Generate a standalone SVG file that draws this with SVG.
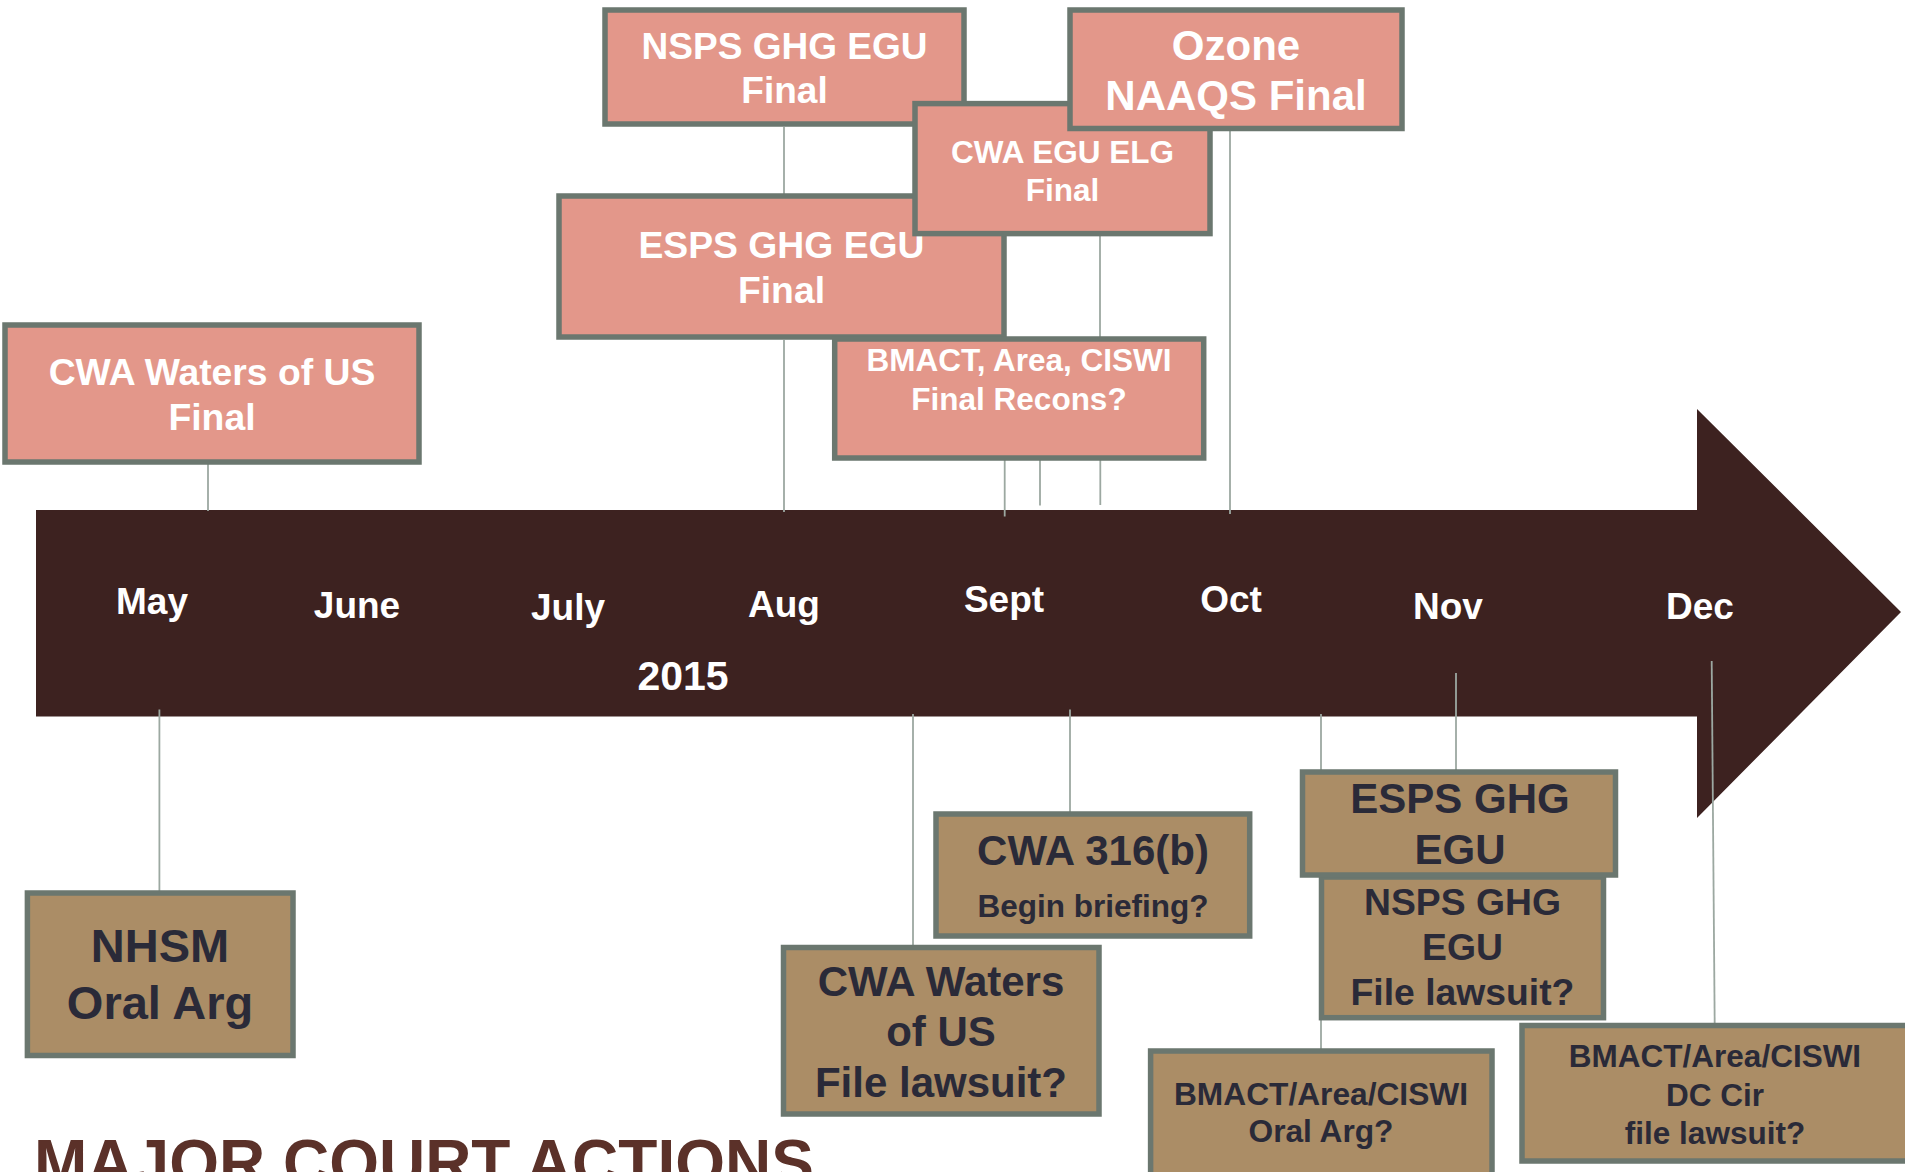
<svg xmlns="http://www.w3.org/2000/svg" width="1905" height="1172" viewBox="0 0 1905 1172">
<style>
  text { font-family: "Liberation Sans", Arial, sans-serif; font-weight: bold; text-anchor: middle; }
  .bar { fill: #3D2220; }
  .month { fill: #FFFFFF; font-size: 37px; }
  .year { fill: #FFFFFF; font-size: 41px; }
  .reg rect { fill: #E3978A; stroke: #6B776F; stroke-width: 5.5; }
  .reg text { fill: #FFFFFF; }
  .court rect { fill: #AB8D66; stroke: #6B776F; stroke-width: 5.5; }
  .court text { fill: #2A2A38; }
  .conn line { stroke: #9CA8A1; stroke-width: 1.8; }
  .title { fill: #5B3129; font-size: 64px; text-anchor: start; }
</style>

<g id="timeline">
  <polygon class="bar" points="36,510 1697,510 1697,409 1901,612 1697,818 1697,716.5 36,716.5"/>
  <text class="month" x="152" y="614">May</text>
  <text class="month" x="357" y="618">June</text>
  <text class="month" x="568" y="620">July</text>
  <text class="month" x="784" y="617">Aug</text>
  <text class="month" x="1004" y="612">Sept</text>
  <text class="month" x="1231" y="612">Oct</text>
  <text class="month" x="1448" y="619">Nov</text>
  <text class="month" x="1700" y="619">Dec</text>
  <text class="year" x="683" y="690">2015</text>
</g>

<g id="connectors" class="conn">
  <line x1="208" y1="463" x2="208" y2="511"/>
  <line x1="784" y1="127" x2="784" y2="196"/>
  <line x1="784" y1="340" x2="784" y2="512"/>
  <line x1="1100" y1="236" x2="1100" y2="339"/>
  <line x1="1100.3" y1="458" x2="1100.3" y2="505"/>
  <line x1="1004.7" y1="458" x2="1004.7" y2="516.5"/>
  <line x1="1040" y1="458" x2="1040" y2="505.5"/>
  <line x1="1230" y1="131" x2="1230" y2="514"/>
  <line x1="159.4" y1="709.5" x2="159.4" y2="893"/>
  <line x1="913" y1="714" x2="913" y2="947"/>
  <line x1="1070" y1="709.5" x2="1070" y2="814"/>
  <line x1="1321" y1="714" x2="1321" y2="1051"/>
  <line x1="1456" y1="673" x2="1456" y2="772"/>
  <line x1="1711.7" y1="661" x2="1714.7" y2="1025"/>
</g>

<g id="n-cwa-waters-final" class="reg">
  <rect x="5" y="325" width="414" height="137"/>
  <text x="212" y="385" font-size="37.3">CWA Waters of US</text>
  <text x="212" y="430" font-size="37.3">Final</text>
</g>
<g id="n-nsps-final" class="reg">
  <rect x="605" y="10" width="359" height="114"/>
  <text x="784.5" y="59" font-size="37">NSPS GHG EGU</text>
  <text x="784.5" y="103" font-size="37">Final</text>
</g>
<g id="n-esps-final" class="reg">
  <rect x="559" y="196" width="445" height="141"/>
  <text x="781.5" y="257.5" font-size="37.3">ESPS GHG EGU</text>
  <text x="781.5" y="302.5" font-size="37.3">Final</text>
</g>
<g id="n-bmact-recons" class="reg">
  <rect x="834.7" y="339" width="369" height="119"/>
  <text x="1019" y="371" font-size="31.5">BMACT, Area, CISWI</text>
  <text x="1019" y="410" font-size="31.5">Final Recons?</text>
</g>
<g id="n-cwa-elg-final" class="reg">
  <rect x="915" y="103.6" width="295" height="130"/>
  <text x="1062.5" y="162.5" font-size="31.5">CWA EGU ELG</text>
  <text x="1062.5" y="200.5" font-size="31.5">Final</text>
</g>
<g id="n-ozone-final" class="reg">
  <rect x="1070" y="10" width="332" height="118.5"/>
  <text x="1236" y="60" font-size="42">Ozone</text>
  <text x="1236" y="110" font-size="42">NAAQS Final</text>
</g>

<g id="n-nhsm" class="court">
  <rect x="27.4" y="893" width="265.6" height="162.5"/>
  <text x="160" y="962" font-size="47">NHSM</text>
  <text x="160" y="1019" font-size="47">Oral Arg</text>
</g>
<g id="n-cwa-waters-lawsuit" class="court">
  <rect x="783.5" y="947.5" width="315.5" height="166.5"/>
  <text x="941" y="995.5" font-size="42">CWA Waters</text>
  <text x="941" y="1046" font-size="42">of US</text>
  <text x="941" y="1097" font-size="42">File lawsuit?</text>
</g>
<g id="n-cwa-316b" class="court">
  <rect x="936" y="814" width="313.7" height="122"/>
  <text x="1093" y="865" font-size="42">CWA 316(b)</text>
  <text x="1093" y="917" font-size="31.5">Begin briefing?</text>
</g>
<g id="n-nsps-lawsuit" class="court">
  <rect x="1321.5" y="877" width="282" height="140.7"/>
  <text x="1462.5" y="914.7" font-size="37.3">NSPS GHG</text>
  <text x="1462.5" y="960" font-size="37.3">EGU</text>
  <text x="1462.5" y="1005" font-size="37.3">File lawsuit?</text>
</g>
<g id="n-esps-court" class="court">
  <rect x="1302.5" y="772" width="313" height="103"/>
  <text x="1460" y="813" font-size="42">ESPS GHG</text>
  <text x="1460" y="864" font-size="42">EGU</text>
</g>
<g id="n-bmact-oral" class="court">
  <rect x="1150.6" y="1051" width="341.4" height="160"/>
  <text x="1321" y="1104.5" font-size="31.7">BMACT/Area/CISWI</text>
  <text x="1321" y="1142" font-size="31.7">Oral Arg?</text>
</g>
<g id="n-bmact-dccir" class="court">
  <rect x="1522" y="1025.5" width="386" height="135.5"/>
  <text x="1715" y="1067" font-size="31.5">BMACT/Area/CISWI</text>
  <text x="1715" y="1105.8" font-size="31.5">DC Cir</text>
  <text x="1715" y="1144" font-size="31.5">file lawsuit?</text>
</g>

<text class="title" x="34" y="1185">MAJOR COURT ACTIONS</text>
</svg>
